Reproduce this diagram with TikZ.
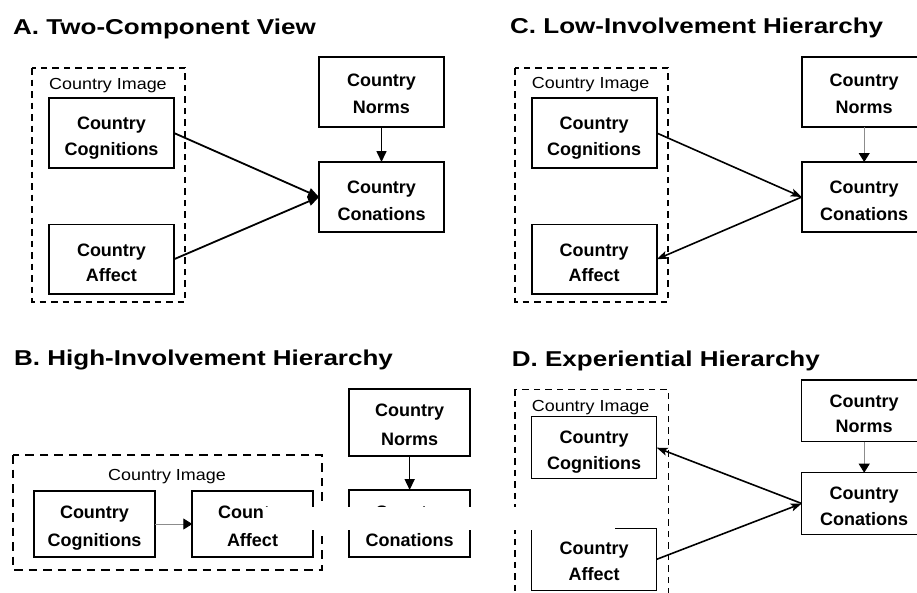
\documentclass[tikz,border=0pt]{standalone}
\usepackage{fontspec}
\setmainfont{Liberation Sans}
\usepackage{graphicx}
\usetikzlibrary{arrows.meta}
\tikzset{
  cb/.style={draw, anchor=north west, inner sep=0pt, outer sep=0pt},
  bt/.style={anchor=base, inner sep=0pt, font=\fontsize{18}{20}\selectfont\bfseries},
  il/.style={inner sep=0pt, font=\fontsize{16}{18}\selectfont},
  ttl/.style={anchor=base west, inner sep=0pt, font=\fontsize{21.5}{24}\selectfont\bfseries},
  dashbox/.style={draw, line width=1.5pt, dash pattern=on 6.5pt off 5pt},
  arrA/.style={draw, line width=1.8pt, -{Triangle[length=11pt,width=9pt]}},
  arrS/.style={draw, line width=1.6pt, -{Stealth[length=11pt,width=8pt,inset=2.5pt]}},
  arrV/.style={draw, line width=1.6pt, -{Triangle[length=11pt,width=10pt]}},
  arrG/.style={draw, line width=0.9pt, black!45, -{Triangle[length=9pt,width=11pt,color=black]}},
}
\newcommand\cbox[9]{%
  \node[cb, minimum width=#4pt, minimum height=#5pt] (#1) at (#2,#3) {};
  \node[bt] at (#2+#4/2, #3+#6) {#8};
  \node[bt] at (#2+#4/2, #3+#7) {#9};
}
\newcommand\ttltext[1]{\scalebox{1.21}[1]{#1}}
\newcommand\iltext{\scalebox{1.12}[1]{Country Image}}
\begin{document}
\begin{tikzpicture}[x=1pt,y=-1pt]
\useasboundingbox (0,0) rectangle (917,592);
\clip (0,0) rectangle (917,592);
\fill[white] (0,0) rectangle (917,592);

% ---------------- Panel A ----------------
\node[ttl] (tA) at (13,34) {\ttltext{A. Two-Component View}};
\begin{scope}[line width=1.9pt]
\cbox{cogA}{49}{98}{125}{70}{31.5}{57.8}{Country}{Cognitions}
\cbox{affA}{49}{224.5}{125}{69.5}{31.5}{57.2}{Country}{Affect}
\cbox{normA}{319}{57}{125}{70}{29.5}{56.5}{Country}{Norms}
\cbox{conA}{319}{162}{125}{70}{31.3}{58}{Country}{Conations}
\end{scope}
\draw[dashbox] (32,68) rectangle (185,302);
\node[il, anchor=base west] (iA) at (49,89) {\iltext};
\draw[arrA] (cogA.east) -- (conA.west);
\draw[arrA] (affA.east) -- (conA.west);
\draw[arrV] (normA) -- (conA);

% ---------------- Panel C ----------------
\node[ttl] (tC) at (510,33.5) {\ttltext{C. Low-Involvement Hierarchy}};
\begin{scope}[line width=1.7pt]
\cbox{cogC}{531.7}{98}{125}{70}{31.5}{57.8}{Country}{Cognitions}
\cbox{affC}{531.7}{224.5}{125}{69.5}{31.5}{57.2}{Country}{Affect}
\cbox{normC}{801.7}{57}{125}{70}{29.5}{56.5}{Country}{Norms}
\cbox{conC}{801.7}{162}{125}{70}{31.3}{58}{Country}{Conations}
\end{scope}
\draw[dashbox] (515,68) rectangle (668,302);
\node[il, anchor=base west] (iC) at (531.7,88.5) {\iltext};
\draw[arrS] (cogC.east) -- (conC.west);
\draw[arrS] (conC.west) -- (affC.east);
\draw[arrG] (normC) -- (conC);

% ---------------- Panel B ----------------
\node[ttl] (tB) at (14,365) {\ttltext{B. High-Involvement Hierarchy}};
\begin{scope}[line width=1.9pt]
\cbox{cogB}{34}{490.7}{121}{66.6}{27.6}{55.3}{Country}{Cognitions}
\cbox{affB}{192.3}{490.7}{120.4}{66.6}{27.6}{55.3}{Country}{Affect}
\cbox{normB}{349.3}{389.3}{120.7}{66.7}{27.4}{55.7}{Country}{Norms}
\cbox{conB}{349.3}{490}{120.7}{66.7}{28}{56.7}{Country}{Conations}
\end{scope}
\draw[dashbox, line width=2.2pt, dash pattern=on 8.5pt off 6pt] (13,455) rectangle (321.7,570);
\node[il, anchor=base] (iB) at (167,480) {\iltext};
\draw[arrG] (cogB.east) -- (affB.west);
\draw[arrV] (normB) -- (conB);

% ---------------- Panel D ----------------
\node[ttl] (tD) at (511.7,366) {\ttltext{D. Experiential Hierarchy}};
\begin{scope}[line width=1.4pt]
\cbox{cogD}{531.7}{416.7}{125}{62}{26.3}{52.5}{Country}{Cognitions}
\cbox{affD}{531.7}{528.3}{125}{62}{26}{52.4}{Country}{Affect}
\cbox{normD}{801.7}{380}{125}{61.7}{27.3}{52.7}{Country}{Norms}
\cbox{conD}{801.7}{472.7}{125}{61.6}{26.6}{52.6}{Country}{Conations}
\end{scope}
\draw[dashbox] (515,389.3) rectangle (668.3,605);
\node[il, anchor=base west] (iD) at (531.7,411) {\iltext};
\draw[arrS] (conD.west) -- (cogD.east);
\draw[arrS] (affD.east) -- (conD.west);
\draw[arrG] (normD) -- (conD);

% white band present in the reference
\fill[white] (263,506.5) rectangle (615,529.8);
\end{tikzpicture}
\end{document}
